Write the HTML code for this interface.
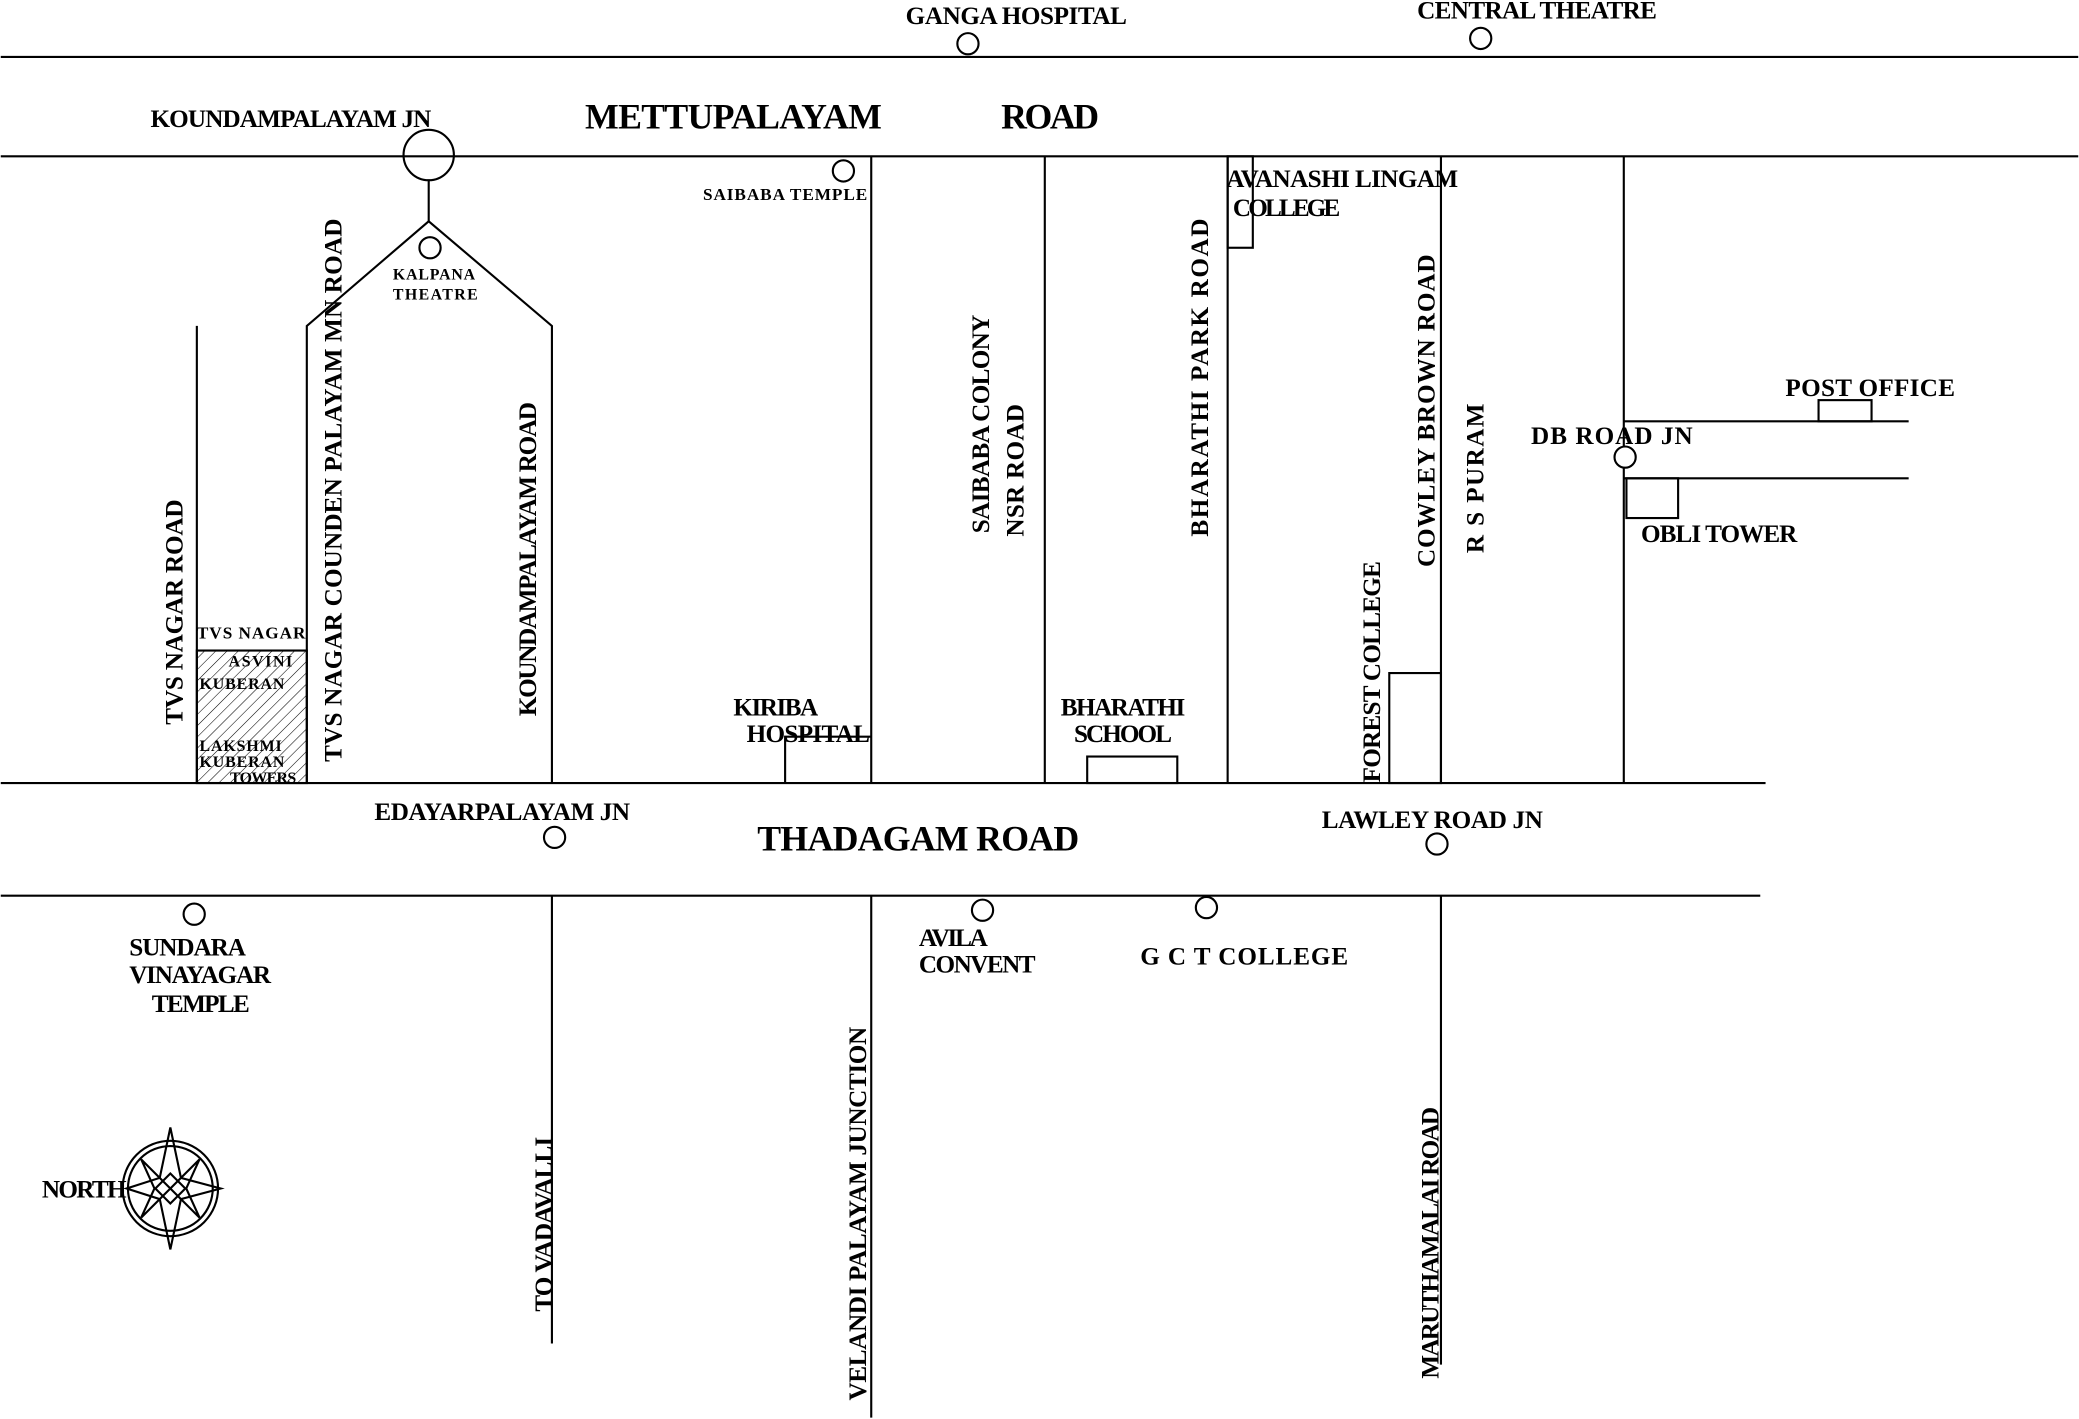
<!DOCTYPE html>
<html><head><meta charset="utf-8"><style>
html,body{margin:0;padding:0;background:#fff;}
svg{display:block;}
text{font-family:"Liberation Serif",serif;font-weight:bold;fill:#000;}
</style></head><body>
<svg width="2079" height="1419" viewBox="0 0 1568 1071" xmlns="http://www.w3.org/2000/svg">
<defs>
<pattern id="h" width="6" height="6" patternUnits="userSpaceOnUse" patternTransform="rotate(45)">
<line x1="0" y1="0" x2="0" y2="6" stroke="#000" stroke-width="0.8"/></pattern>
</defs>
<g stroke="#000" stroke-width="1.6" fill="none">
<line x1="0" y1="43" x2="1568" y2="43"/>
<line x1="0" y1="118" x2="1568" y2="118"/>
<line x1="0" y1="591" x2="1332" y2="591"/>
<line x1="0" y1="676" x2="1328" y2="676"/>
<circle cx="730" cy="33" r="8"/>
<circle cx="1117" cy="29" r="8"/>
<circle cx="323" cy="117" r="19"/>
<line x1="323" y1="136" x2="323" y2="167"/>
<polyline points="231,591 231,246 323,167 416,246 416,591"/>
<circle cx="324" cy="187" r="8"/>
<line x1="148" y1="246" x2="148" y2="591"/>
<rect x="148" y="491" width="83" height="100" fill="url(#h)"/>
<line x1="657" y1="118" x2="657" y2="591"/>
<line x1="788" y1="118" x2="788" y2="591"/>
<line x1="926" y1="118" x2="926" y2="591"/>
<line x1="1087" y1="118" x2="1087" y2="591"/>
<line x1="1225" y1="118" x2="1225" y2="591"/>
<rect x="926" y="118" width="19" height="69"/>
<rect x="1048" y="508" width="39" height="83"/>
<rect x="820" y="571" width="68" height="20"/>
<polyline points="592,591 592,556 657,556"/>
<circle cx="636" cy="129" r="8"/>
<line x1="1225" y1="318" x2="1440" y2="318"/>
<line x1="1225" y1="361" x2="1440" y2="361"/>
<rect x="1372" y="302" width="40" height="16"/>
<rect x="1227" y="361" width="39" height="30"/>
<circle cx="1226" cy="345" r="8" fill="#fff"/>
<line x1="416" y1="676" x2="416" y2="1014"/>
<line x1="657" y1="676" x2="657" y2="1070"/>
<line x1="1087" y1="676" x2="1087" y2="1030"/>
<circle cx="418" cy="632" r="8"/>
<circle cx="1084" cy="637" r="8"/>
<circle cx="146" cy="690" r="8"/>
<circle cx="741" cy="687" r="8"/>
<circle cx="910" cy="685" r="8"/>
<circle cx="128" cy="897" r="36"/>
<circle cx="128" cy="897" r="32"/>
<polygon points="128,851 136,889 166,897 136,905 128,943 120,905 95,897 120,889"/>
<polygon points="128,897 150,875 140,897 150,919 128,897 106,919 116,897 106,875" />
<rect x="120" y="889" width="16" height="16" transform="rotate(45 128 897)"/>
</g>
<g font-size="19">
<text x="683" y="18" textLength="167">GANGA HOSPITAL</text>
<text x="1069" y="14" textLength="181">CENTRAL THEATRE</text>
<text x="113" y="96" textLength="212">KOUNDAMPALAYAM JN</text>
<text x="441" y="97" font-size="27" textLength="224">METTUPALAYAM</text>
<text x="755" y="97" font-size="27" textLength="74">ROAD</text>
<text x="296" y="211" font-size="12" textLength="62">KALPANA</text>
<text x="296" y="226" font-size="12" textLength="64">THEATRE</text>
<text x="530" y="151" font-size="13" textLength="124">SAIBABA TEMPLE</text>
<text x="925" y="141" textLength="175">AVANASHI LINGAM</text>
<text x="930" y="163" textLength="81">COLLEGE</text>
<text x="1347" y="299" textLength="128">POST OFFICE</text>
<text x="1155" y="335" textLength="122">DB ROAD JN</text>
<text x="1238" y="409" textLength="118">OBLI TOWER</text>
<text x="553" y="540" textLength="64">KIRIBA</text>
<text x="563" y="560" textLength="93">HOSPITAL</text>
<text x="800" y="540" textLength="94">BHARATHI</text>
<text x="810" y="560" textLength="74">SCHOOL</text>
<text x="148" y="482" font-size="13" textLength="82">TVS NAGAR</text>
<text x="172" y="503" font-size="12" textLength="48">ASVINI</text>
<text x="150" y="520" font-size="12" textLength="64">KUBERAN</text>
<text x="150" y="567" font-size="12" textLength="62">LAKSHMI</text>
<text x="150" y="579" font-size="12" textLength="64">KUBERAN</text>
<text x="173" y="591" font-size="12" textLength="50">TOWERS</text>
<text x="282" y="619" textLength="193">EDAYARPALAYAM JN</text>
<text x="571" y="642" font-size="27" textLength="243">THADAGAM ROAD</text>
<text x="997" y="625" textLength="167">LAWLEY ROAD JN</text>
<text x="97" y="721" textLength="88">SUNDARA</text>
<text x="97" y="742" textLength="107">VINAYAGAR</text>
<text x="114" y="764" textLength="74">TEMPLE</text>
<text x="693" y="714" textLength="52">AVILA</text>
<text x="693" y="734" textLength="88">CONVENT</text>
<text x="860" y="728" textLength="157">G C T COLLEGE</text>
<text x="31" y="904" textLength="64">NORTH</text>
<g text-anchor="middle">
<text transform="translate(137,462) rotate(-90)" textLength="170">TVS NAGAR ROAD</text>
<text transform="translate(257,370) rotate(-90)" textLength="410">TVS NAGAR COUNDEN PALAYAM MN ROAD</text>
<text transform="translate(404,422) rotate(-90)" textLength="237">KOUNDAMPALAYAM ROAD</text>
<text transform="translate(746,320) rotate(-90)" textLength="165">SAIBABA COLONY</text>
<text transform="translate(772,355) rotate(-90)" textLength="100">NSR ROAD</text>
<text transform="translate(911,285) rotate(-90)" textLength="240">BHARATHI   PARK   ROAD</text>
<text transform="translate(1082,310) rotate(-90)" textLength="236">COWLEY  BROWN  ROAD</text>
<text transform="translate(1119,361) rotate(-90)" textLength="113">R S PURAM</text>
<text transform="translate(1041,507) rotate(-90)" textLength="167">FOREST COLLEGE</text>
<text transform="translate(416,924) rotate(-90)" textLength="132">TO VADAVALLI</text>
<text transform="translate(653,916) rotate(-90)" textLength="282">VELANDI PALAYAM JUNCTION</text>
<text transform="translate(1085,938) rotate(-90)" textLength="205">MARUTHAMALAI ROAD</text>
</g>
</g>
</svg>
</body></html>
